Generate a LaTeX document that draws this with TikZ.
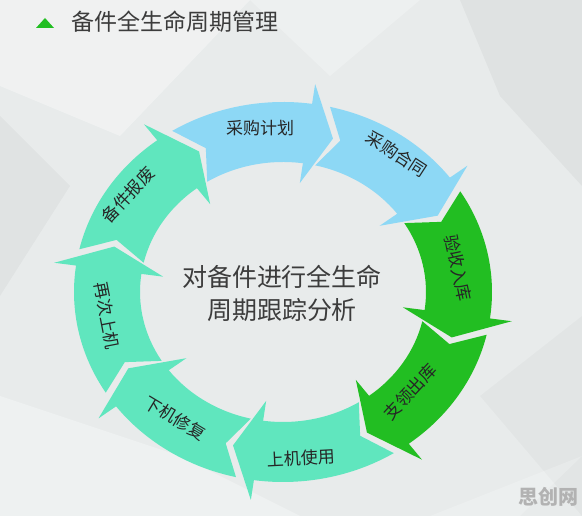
\documentclass[tikz,border=0pt]{standalone}
\usepackage{fontspec}
\newfontfamily\cjk{Noto Sans CJK SC}
\definecolor{bgc}{HTML}{E8EBEB}
\definecolor{sky}{HTML}{8DD8F5}
\definecolor{grn}{HTML}{22BE22}
\definecolor{mint}{HTML}{60E6BE}
\definecolor{ink}{HTML}{262626}
\newcommand\ringarrow[2]{%
  \pgfmathsetmacro\raS{#1}%
  \pgfmathsetmacro\raH{#1-40}%
  \pgfmathsetmacro\raT{#1-48.5}%
  \pgfmathsetmacro\raN{#1-6}%
  \fill[#2] (\raS:190) arc[start angle=\raS, end angle=\raH, radius=190]
    -- (\raH:210) -- (\raT:160) -- (\raH:110) -- (\raH:130)
    arc[start angle=\raH, end angle=\raS, radius=130] -- (\raN:160) -- cycle;}
\tikzset{
  lbl/.style={font=\cjk\fontsize{17}{17}\selectfont, text=ink, inner sep=0pt},
  ctr/.style={font=\cjk\fontsize{25}{33}\selectfont, text=ink!90, align=center, inner sep=0pt},
  facet/.style={fill=#1}
}
\begin{document}
\begin{tikzpicture}[x=1pt,y=1pt]
\useasboundingbox (0,0) rectangle (582,516);
% background
\fill[bgc] (0,0) rectangle (582,516);
\fill[facet=white, opacity=0.35] (0,516) -- (250,516) -- (120,380) -- (0,430) -- cycle;
\fill[facet=white, opacity=0.25] (250,516) -- (420,516) -- (330,440) -- cycle;
\fill[facet=black, opacity=0.035] (460,516) -- (582,516) -- (582,330) -- (500,420) -- cycle;
\fill[facet=black, opacity=0.03] (0,400) -- (70,330) -- (0,220) -- cycle;
\fill[facet=white, opacity=0.3] (0,0) -- (300,0) -- (180,60) -- (0,120) -- cycle;
\fill[facet=black, opacity=0.025] (582,0) -- (582,200) -- (480,120) -- cycle;
\fill[facet=white, opacity=0.2] (430,0) -- (582,60) -- (520,0) -- cycle;
% title
\fill[grn] (36,488) -- (54,488) -- (45,498) -- cycle;
\node[anchor=west, font=\cjk\fontsize{23}{23}\selectfont, text=ink!90, inner sep=0pt] (title) at (71,494) {备件全生命周期管理};
% ring
\begin{scope}[shift={(283,224)}, xscale=1.1]
  \ringarrow{122}{sky}
  \ringarrow{77}{sky}
  \ringarrow{32}{grn}
  \ringarrow{-13}{grn}
  \ringarrow{-58}{mint}
  \ringarrow{-103}{mint}
  \ringarrow{-148}{mint}
  \ringarrow{167}{mint}
\end{scope}
% labels
\node[lbl, rotate=0]   (l1) at (260,388) {采购计划};
\node[lbl, rotate=-33] (l2) at (397,362) {采购合同};
\node[lbl, rotate=-78] (l3) at (458,248) {验收入库};
\node[lbl, rotate=47]  (l4) at (410,124) {支领出库};
\node[lbl, rotate=3]   (l5) at (301,58)  {上机使用};
\node[lbl, rotate=-31] (l6) at (175,98)  {下机修复};
\node[lbl, rotate=-79] (l7) at (107,200) {再次上机};
\node[lbl, rotate=47]  (l8) at (128,321) {备件报废};
% centre text
\node[ctr] (mid) at (282,223) {对备件进行全生命\\周期跟踪分析};
% watermark
\node[font=\cjk\bfseries\fontsize{20}{20}\selectfont, text=black!30, inner sep=0pt] (wm) at (548,19) {思创网};
\end{tikzpicture}
\end{document}
